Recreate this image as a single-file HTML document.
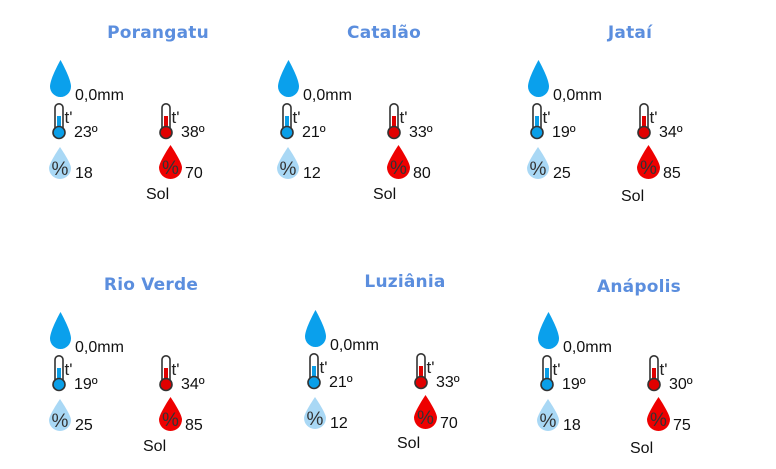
<!DOCTYPE html>
<html><head><meta charset="utf-8"><style>
body{margin:0;width:776px;height:469px;background:#fff;position:relative;overflow:hidden;font-family:"Liberation Sans",sans-serif;}
.t{position:absolute;color:#111;font-size:16px;line-height:1;white-space:nowrap;}
.ti{position:absolute;color:#5b8ede;font-weight:bold;font-family:"DejaVu Sans",sans-serif;font-size:17px;transform:translateX(-50%);white-space:nowrap;letter-spacing:0.2px;}
svg{position:absolute;overflow:visible;}
</style></head><body>
<script>
const cities=["Porangatu","Catalão","Jataí","Rio Verde","Luziânia","Anápolis"];
const rain=["0,0mm","0,0mm","0,0mm","0,0mm","0,0mm","0,0mm"];
const tmin=["23º","21º","19º","19º","21º","19º"];
const tmax=["38º","33º","34º","34º","33º","30º"];
const hmin=["18","12","25","25","12","18"];
const hmax=["70","80","85","85","70","75"];
const cond=["Sol","Sol","Sol","Sol","Sol","Sol"];
const offs=[[0,0,158,23,146,187],[228,0,384,23,373,187],[478,0,630,23,621,189],[0,252,151,275,143,439],[255,250,405,272,397,436],[488,252,639,277,630,441]];
function txt(cls,x,y,s,name){const d=document.createElement('div');d.className=cls;d.style.left=x+'px';d.style.top=y+'px';d.textContent=s;


document.body.appendChild(d);}
function svg(x,y,w,h,inner,name){const s=document.createElementNS('http://www.w3.org/2000/svg','svg');s.setAttribute('width',w);s.setAttribute('height',h);s.style.left=x+'px';s.style.top=y+'px';s.innerHTML=inner;


document.body.appendChild(s);}
const drop=(w,h,c)=>`<path d="M${w/2} 0 C${w/2} 0 0 ${h*0.5} 0 ${h-w/2} A${w/2} ${w/2} 0 0 0 ${w} ${h-w/2} C${w} ${h*0.5} ${w/2} 0 ${w/2} 0Z" fill="${c}"/>`;
const therm=(c)=>`<rect x="3" y="0.8" width="8" height="28" rx="4" fill="#fff" stroke="#333" stroke-width="1.6"/><rect x="5" y="13" width="4" height="18" fill="${c}"/><circle cx="7" cy="29.5" r="6" fill="${c}" stroke="#333" stroke-width="1.6"/><text x="12.5" y="20" font-size="17" font-family="Liberation Sans" fill="#222">t'</text>`;
cities.forEach((c,i)=>{const [dx,dy,tc,ty,sx,sy]=offs[i];
txt('ti',tc,ty,c,'city-title');
svg(50+dx,60+dy,21,37,drop(21,37,'#0aa0ec'),'rain-drop-icon');
txt('t',75+dx,88+dy,rain[i],'rainfall-value');
svg(52+dx,103+dy,30,36,therm('#0a9fe8'),'min-temp-icon');
txt('t',74+dx,125+dy,tmin[i],'min-temp-value');
svg(159+dx,103+dy,30,36,therm('#e00000'),'max-temp-icon');
txt('t',181+dx,125+dy,tmax[i],'max-temp-value');
svg(49+dx,147+dy,22,32,drop(22,32,'#a9d8f5')+'<text x="11" y="28" font-size="19" text-anchor="middle" font-family="Liberation Sans" fill="#333">%</text>','min-humidity-icon');
txt('t',75+dx,166+dy,hmin[i],'min-humidity-value');
svg(159+dx,145+dy,23,34,drop(23,34,'#ee0000')+'<text x="11.5" y="29" font-size="19" text-anchor="middle" font-family="Liberation Sans" fill="#333">%</text>','max-humidity-icon');
txt('t',185+dx,166+dy,hmax[i],'max-humidity-value');
txt('t',sx,sy,cond[i],'condition-label');
});
</script>
</body></html>
